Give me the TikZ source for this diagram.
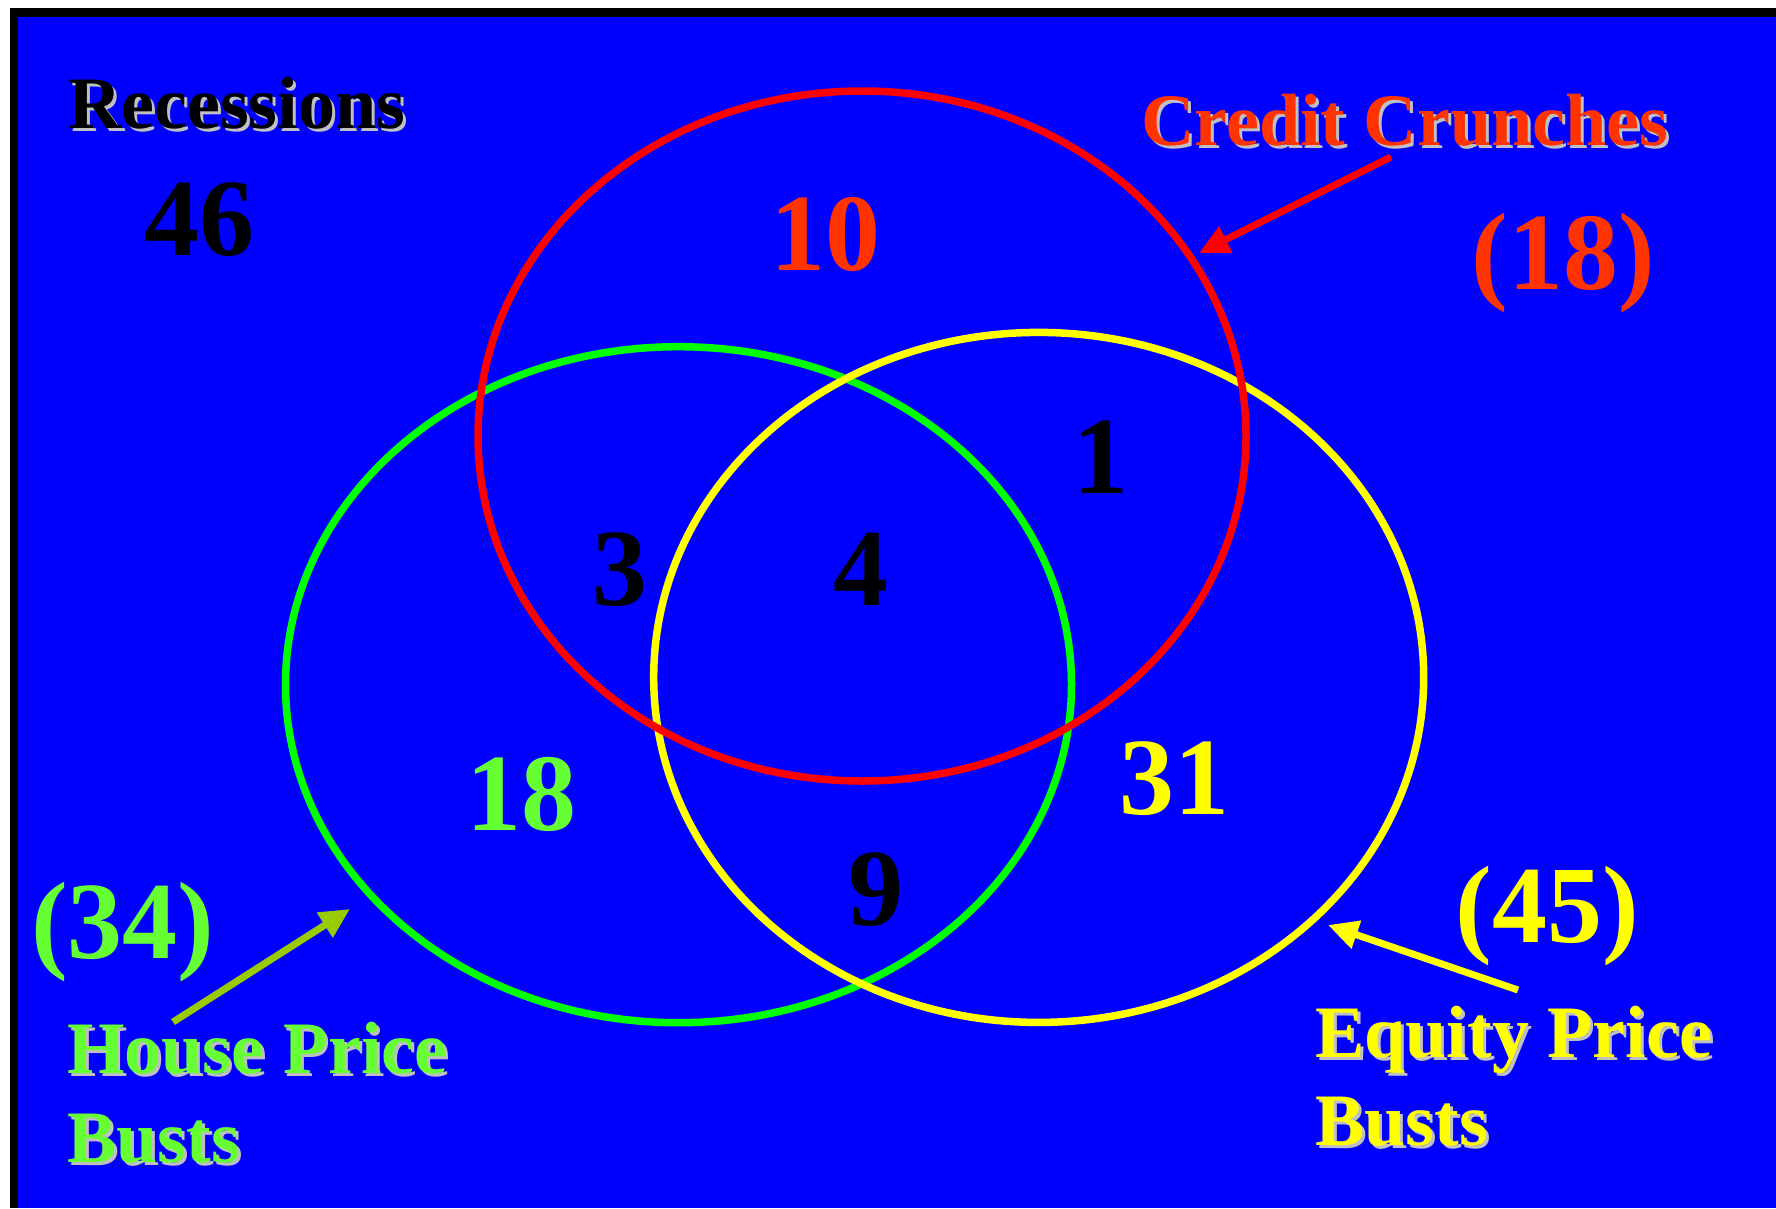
\documentclass[tikz,border=0pt]{standalone}
\usepackage{fontspec}
\setmainfont{Liberation Serif}
\usetikzlibrary{arrows.meta}
\definecolor{bg}{HTML}{0000FF}
\definecolor{crunch}{HTML}{FF3300}
\definecolor{housetxt}{HTML}{66FF33}
\definecolor{eqtxt}{HTML}{FFFF00}
\definecolor{housearrow}{HTML}{99CC00}
\definecolor{shade}{HTML}{C0C0C0}
\definecolor{ringred}{HTML}{FF0000}
\definecolor{ringgreen}{HTML}{00FF00}
\definecolor{ringyellow}{HTML}{FFFF00}
\newcommand\shtxt[2]{\rlap{\kern3pt\raisebox{-3pt}{\color{shade}#2}}{\color{#1}#2}}
\begin{document}
\begin{tikzpicture}[x=1pt,y=-1pt,
  title/.style={font=\bfseries\fontsize{74}{89}\selectfont, inner sep=0pt, anchor=base west},
  count/.style={font=\bfseries\fontsize{110}{110}\selectfont, inner sep=0pt, anchor=base},
  ring/.style={line width=7.5pt},
  pointer/.style={line width=7pt, -{Triangle[length=30pt,width=28pt]}}]
\useasboundingbox (0,0) rectangle (1776,1208);
\fill[white] (0,0) rectangle (1776,1208);
\fill[black] (10,8) rectangle (1776,1208);
\fill[bg] (18,17) rectangle (1776,1208);

% rings
\draw[ring, ringgreen] (678.5,684.7) ellipse [x radius=393pt, y radius=338pt];
\draw[ring, ringyellow] (1038.7,677.4) ellipse [x radius=385pt, y radius=345pt];
\draw[ring, ringred] (862,436) ellipse [x radius=384pt, y radius=345pt];

% titles
\node[title] (rec) at (68,128) {\shtxt{black}{Recessions}};
\node[title] (cc) at (1141,145) {\shtxt{crunch}{Credit Crunches}};
\node[title] (hp1) at (67,1073) {\shtxt{housetxt}{House Price}};
\node[title] (hp2) at (67,1162) {\shtxt{housetxt}{Busts}};
\node[title] (ep1) at (1315,1057) {\shtxt{eqtxt}{Equity Price}};
\node[title] (ep2) at (1315,1145) {\shtxt{eqtxt}{Busts}};

% totals
\node[count, text=black] (n46) at (199,255) {46};
\node[count, text=crunch] (t18) at (1563,289) {(18)};
\node[count, text=housetxt] (t34) at (123,958) {(34)};
\node[count, text=eqtxt] (t45) at (1547,942) {(45)};

% region counts
\node[count, text=crunch] (n10) at (825,270) {10};
\node[count, text=black] (n1) at (1101,493) {1};
\node[count, text=black] (n3) at (620,605) {3};
\node[count, text=black] (n4) at (861,605) {4};
\node[count, text=housetxt] (n18) at (521,830) {18};
\node[count, text=eqtxt] (n31) at (1174,814) {31};
\node[count, text=black] (n9) at (876,925) {9};

% arrows
\coordinate (ccTail) at (1391,157);
\coordinate (ccTip) at (1199,253);
\coordinate (hpTail) at (173,1022);
\coordinate (hpTip) at (350,909);
\coordinate (epTail) at (1518,990);
\coordinate (epTip) at (1328,925);
\draw[pointer, ringred] (ccTail) -- (ccTip);
\draw[pointer, housearrow] (hpTail) -- (hpTip);
\draw[pointer, ringyellow] (epTail) -- (epTip);
\end{tikzpicture}
\end{document}
